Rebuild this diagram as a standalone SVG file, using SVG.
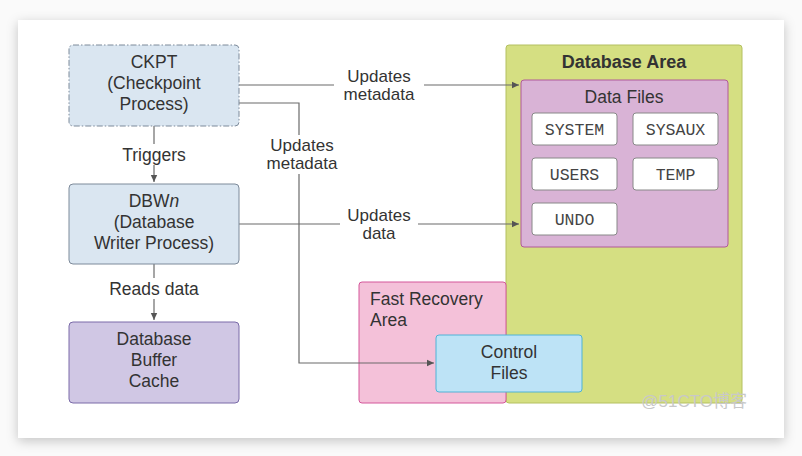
<svg xmlns="http://www.w3.org/2000/svg" width="802" height="456" viewBox="0 0 802 456">
<defs>
<filter id="sh" x="-10%" y="-10%" width="120%" height="125%">
<feDropShadow dx="0" dy="3" stdDeviation="6" flood-color="#000" flood-opacity="0.22"/>
</filter>
<marker id="ar" markerWidth="8" markerHeight="8" refX="7" refY="4" orient="auto" markerUnits="userSpaceOnUse">
<path d="M0,0.8 L7,4 L0,7.2 Z" fill="#555"/>
</marker>
<style>
.t{font-family:"Liberation Sans",Arial,Helvetica,sans-serif;font-size:17.5px;fill:#333;text-anchor:middle}
.l{font-size:17px}
.m{font-family:"Liberation Mono","Courier New",monospace;font-size:16.5px;fill:#444;text-anchor:middle}
.c{fill:none;stroke:#6b6b6b;stroke-width:1.2}
.lb{fill:#fff}
.f{fill:#fff;stroke:#888;stroke-width:1}
</style>
</defs>
<rect width="802" height="456" fill="#fafafa"/>
<rect x="18" y="20" width="766" height="418" fill="#fff" filter="url(#sh)"/>

<g id="database-area">
<rect x="506" y="45" width="236" height="358" rx="3" fill="#d5df82" stroke="#b4c060"/>
<text class="t" x="624" y="68" style="font-weight:bold;font-size:18px">Database Area</text>
</g>
<g id="data-files">
<rect x="521" y="80" width="207" height="167" rx="3" fill="#d9b3d6" stroke="#b0589a"/>
<text class="t" x="624" y="103">Data Files</text>
</g>
<g id="system"><rect class="f" x="532" y="113" width="85" height="32" rx="3"/><text class="m" x="574.5" y="135">SYSTEM</text></g>
<g id="sysaux"><rect class="f" x="633" y="113" width="85" height="32" rx="3"/><text class="m" x="675.5" y="135">SYSAUX</text></g>
<g id="users"><rect class="f" x="532" y="158" width="85" height="32" rx="3"/><text class="m" x="574.5" y="180">USERS</text></g>
<g id="temp"><rect class="f" x="633" y="158" width="85" height="32" rx="3"/><text class="m" x="675.5" y="180">TEMP</text></g>
<g id="undo"><rect class="f" x="532" y="203" width="85" height="32" rx="3"/><text class="m" x="574.5" y="225">UNDO</text></g>

<g id="fast-recovery-area">
<rect x="359" y="282" width="147" height="121" rx="3" fill="#f4c1d9" stroke="#d4569a"/>
<text class="t" x="370" y="305" style="text-anchor:start">Fast Recovery</text>
<text class="t" x="370" y="326" style="text-anchor:start">Area</text>
</g>

<g id="connectors">
<path class="c" d="M239,85 H519" marker-end="url(#ar)"/>
<path class="c" d="M239,103 H299 V363 H434" marker-end="url(#ar)"/>
<path class="c" d="M154,126 V182" marker-end="url(#ar)"/>
<path class="c" d="M239,224 H519" marker-end="url(#ar)"/>
<path class="c" d="M154,264 V320" marker-end="url(#ar)"/>
<rect class="lb" x="334" y="66" width="90" height="39"/>
<text class="t l" x="379" y="82">Updates</text>
<text class="t l" x="379" y="100">metadata</text>
<rect class="lb" x="260" y="135" width="84" height="39"/>
<text class="t l" x="302" y="151">Updates</text>
<text class="t l" x="302" y="169">metadata</text>
<rect class="lb" x="114" y="144" width="80" height="21"/>
<text class="t" x="154" y="161">Triggers</text>
<rect class="lb" x="340" y="205" width="78" height="39"/>
<text class="t l" x="379" y="221">Updates</text>
<text class="t l" x="379" y="239">data</text>
<rect class="lb" x="100" y="278" width="108" height="21"/>
<text class="t" x="154" y="295">Reads data</text>
</g>

<g id="control-files">
<rect x="436" y="335" width="146" height="57" rx="3" fill="#bde3f6" stroke="#4fb3d6"/>
<text class="t" x="509" y="358">Control</text>
<text class="t" x="509" y="379">Files</text>
</g>

<g id="ckpt">
<rect x="69" y="45" width="170" height="81" rx="4" fill="#dae6f1" stroke="#7d8a9a" stroke-dasharray="6,2,1.5,2"/>
<text class="t" x="154" y="68">CKPT</text>
<text class="t" x="154" y="89">(Checkpoint</text>
<text class="t" x="154" y="110">Process)</text>
</g>
<g id="dbwn">
<rect x="69" y="184" width="170" height="80" rx="4" fill="#dae6f1" stroke="#7d8a9a"/>
<text class="t" x="154" y="207">DBW<tspan font-style="italic">n</tspan></text>
<text class="t" x="154" y="228">(Database</text>
<text class="t" x="154" y="249">Writer Process)</text>
</g>
<g id="buffer-cache">
<rect x="69" y="322" width="170" height="81" rx="4" fill="#d0c7e4" stroke="#7a6ba8"/>
<text class="t" x="154" y="345">Database</text>
<text class="t" x="154" y="366">Buffer</text>
<text class="t" x="154" y="387">Cache</text>
</g>
<text x="747" y="407" style="font-family:'Liberation Sans','Noto Sans CJK SC',sans-serif;font-size:17px;fill:#c8c8c8;text-anchor:end">@51CTO博客</text>
</svg>
